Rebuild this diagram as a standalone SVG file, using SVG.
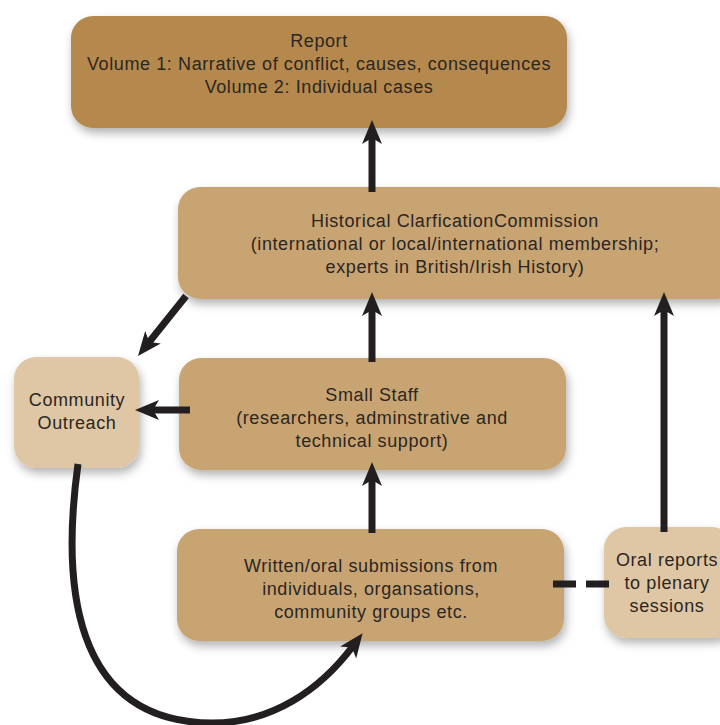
<svg xmlns="http://www.w3.org/2000/svg" width="720" height="725" viewBox="0 0 720 725">
<style>
  .box { filter: url(#sh); }
  .dark { fill: #b5894e; }
  .mid { fill: #c9a473; }
  .light { fill: #dfc6a4; }
  text { font-family: "Liberation Sans", Arial, sans-serif; font-size: 18px; letter-spacing: 0.6px; fill: #2b2622; text-anchor: middle; }
  .conn { stroke: #231f20; stroke-width: 7; fill: none; }
</style>
<defs>
  <filter id="sh" x="-10%" y="-20%" width="125%" height="150%">
    <feDropShadow dx="2" dy="5" stdDeviation="5" flood-color="#000" flood-opacity="0.3"/>
  </filter>
  <marker id="ah" viewBox="0 0 24 20" refX="8" refY="10" markerWidth="24" markerHeight="20" markerUnits="userSpaceOnUse" orient="auto">
    <path d="M0,0 L24,10 L0,20 L6,10 z" fill="#231f20"/>
  </marker>
</defs>
<rect width="720" height="725" fill="#ffffff"/>

<g id="report">
  <rect class="box dark" x="71" y="16" width="496" height="112" rx="22"/>
  <text x="319" y="47">Report</text>
  <text x="319" y="70">Volume 1: Narrative of conflict, causes, consequences</text>
  <text x="319" y="93">Volume 2: Individual cases</text>
</g>

<g id="commission">
  <rect class="box mid" x="178" y="187" width="560" height="112" rx="22"/>
  <text x="455" y="227">Historical ClarficationCommission</text>
  <text x="455" y="250">(international or local/international membership;</text>
  <text x="455" y="273">experts in British/Irish History)</text>
</g>

<g id="outreach">
  <rect class="box light" x="14" y="357" width="125" height="111" rx="22"/>
  <text x="77" y="406">Community</text>
  <text x="77" y="429">Outreach</text>
</g>

<g id="staff">
  <rect class="box mid" x="179" y="358" width="387" height="112" rx="22"/>
  <text x="372" y="401">Small Staff</text>
  <text x="372" y="424">(researchers, adminstrative and</text>
  <text x="372" y="447">technical support)</text>
</g>

<g id="submissions">
  <rect class="box mid" x="177" y="529" width="387" height="112" rx="22"/>
  <text x="371" y="572">Written/oral submissions from</text>
  <text x="371" y="595">individuals, organsations,</text>
  <text x="371" y="618">community groups etc.</text>
</g>

<g id="oral">
  <rect class="box light" x="604" y="527" width="130" height="111" rx="22"/>
  <text x="667" y="566">Oral reports</text>
  <text x="667" y="589">to plenary</text>
  <text x="667" y="612">sessions</text>
</g>

<g id="connectors">
  <line class="conn" x1="372" y1="192" x2="372" y2="136" marker-end="url(#ah)"/>
  <line class="conn" x1="372" y1="362" x2="372" y2="308" marker-end="url(#ah)"/>
  <line class="conn" x1="372" y1="533" x2="372" y2="478" marker-end="url(#ah)"/>
  <line class="conn" x1="664" y1="532" x2="664" y2="308" marker-end="url(#ah)"/>
  <line class="conn" x1="186" y1="296" x2="148" y2="343.5" marker-end="url(#ah)"/>
  <line class="conn" x1="190" y1="410" x2="151" y2="410" marker-end="url(#ah)"/>
  <path class="conn" d="M 78 464 C 62 580, 70 722, 212 723 C 272 723, 320 690, 353 646" marker-end="url(#ah)"/>
  <line class="conn" x1="553" y1="584" x2="609" y2="584" stroke-dasharray="23 10"/>
</g>
</svg>
